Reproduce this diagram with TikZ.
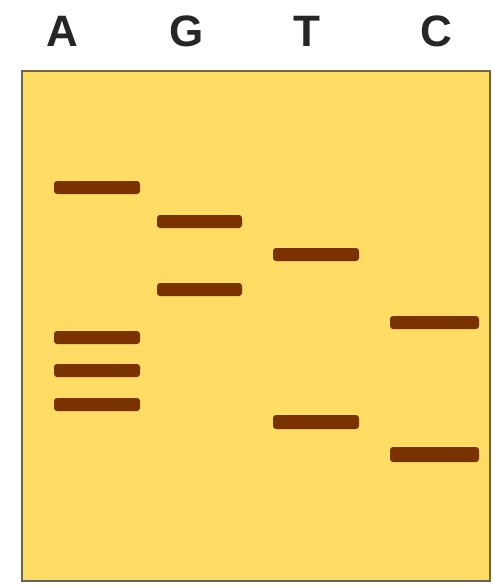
\documentclass[tikz,border=0pt]{standalone}
\usepackage{fontspec}
\setmainfont{Liberation Sans}
\definecolor{gelyellow}{HTML}{FFDC64}
\definecolor{geledge}{HTML}{6E6549}
\definecolor{bandbrown}{HTML}{7A3200}

\begin{document}
\begin{tikzpicture}[x=1pt, y=-1pt]
    \tikzset{band/.style={fill=bandbrown, rounded corners=3pt},
             lane/.style={font=\fontsize{44}{44}\selectfont\bfseries, text=black!85}}
    \useasboundingbox (0,0) rectangle (494,586);
    % Gel
    \filldraw[fill=gelyellow, draw=geledge, line width=2.5pt] (22,71) rectangle (490,581);
    % Lane labels
    \node[lane] (labA) at (62,31) {A};
    \node[lane] (labG) at (187,31) {G};
    \node[lane] (labT) at (307,31) {T};
    \node[lane] (labC) at (436,31) {C};
    % A lane
    \fill[band] (54,181) rectangle (140,194);
    \fill[band] (54,331) rectangle (140,344);
    \fill[band] (54,364) rectangle (140,377);
    \fill[band] (54,398) rectangle (140,411);
    % G lane
    \fill[band] (157,215) rectangle (242,228);
    \fill[band] (157,283) rectangle (242,296);
    % T lane
    \fill[band] (273,248) rectangle (359,261);
    \fill[band] (273,415) rectangle (359,429);
    % C lane
    \fill[band] (390,316) rectangle (479,329);
    \fill[band] (390,447) rectangle (479,462);
\end{tikzpicture}
\end{document}
